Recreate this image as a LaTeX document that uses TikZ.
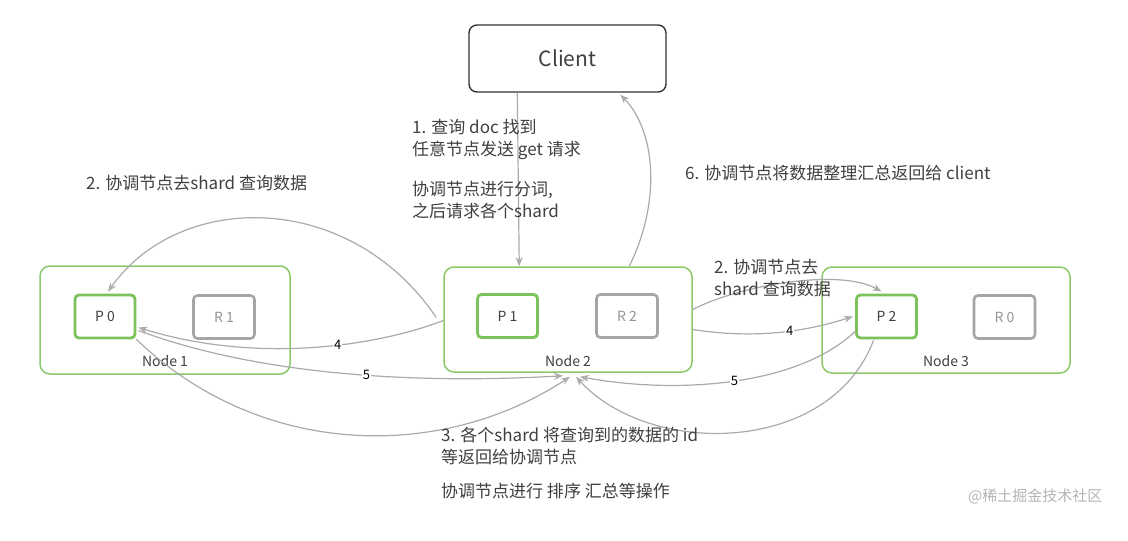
\documentclass[tikz,border=0pt]{standalone}
\usepackage{fontspec}
\setmainfont{Noto Sans CJK SC}
\usetikzlibrary{arrows.meta,calc}
\definecolor{grn}{HTML}{8CC96A}
\definecolor{pgrn}{HTML}{7CC25A}
\definecolor{gry}{HTML}{A5A5A5}
\definecolor{lne}{HTML}{AAAAAA}
\definecolor{txt}{HTML}{404040}
\definecolor{wm}{HTML}{B5B5B5}
\begin{document}
\begin{tikzpicture}[x=1pt,y=-1pt,
  hostbox/.style={draw=grn,line width=1.5pt,rounded corners=10pt,inner sep=0pt},
  pbox/.style={draw=pgrn,line width=2.8pt,rounded corners=4pt,minimum width=60pt,minimum height=43pt,inner sep=0pt,text=txt,font=\fontsize{14}{16}\selectfont},
  rbox/.style={draw=gry,line width=2.6pt,rounded corners=4pt,minimum width=61pt,minimum height=43pt,inner sep=0pt,text=gry!90!black,font=\fontsize{14}{16}\selectfont},
  hostlabel/.style={text=txt,font=\fontsize{14}{16}\selectfont,inner sep=0pt},
  note/.style={text=txt,font=\fontsize{17}{22}\selectfont,align=left,anchor=north west,inner sep=0pt},
  conn/.style={draw=lne,line width=1.2pt,-{Stealth[open,length=9pt,width=7pt]}},
  num/.style={fill=white,inner sep=1pt,text=black,font=\fontsize{13}{15}\selectfont}]
\useasboundingbox (0,0) rectangle (1128,541);
\fill[white] (0,0) rectangle (1128,541);

% Client
\node[draw=black!80,line width=1.4pt,rounded corners=8pt,minimum width=197pt,minimum height=67pt,inner sep=0pt,text=txt,font=\fontsize{21}{24}\selectfont] (cl) at (567.5,58.5) {Client};

% Hosts
\node[hostbox,minimum width=250pt,minimum height=108pt] (n1) at (165,320) {};
\node[hostbox,minimum width=248pt,minimum height=105pt] (n2) at (568,319.5) {};
\node[hostbox,minimum width=248pt,minimum height=106pt] (n3) at (946,320) {};
\node[hostlabel] (n1l) at (165,361) {Node 1};
\node[hostlabel] (n2l) at (568,361) {Node 2};
\node[hostlabel] (n3l) at (946,361) {Node 3};

% Shards
\node[pbox] (p0) at (105,316.5) {P 0};
\node[rbox] (r1) at (224,317) {R 1};
\node[pbox] (p1) at (507.5,316) {P 1};
\node[rbox] (r2) at (627,316) {R 2};
\node[pbox] (p2) at (886.5,316.5) {P 2};
\node[rbox] (r0) at (1004.5,317) {R 0};

% Connection points
\coordinate (clOut) at ($(cl.south west)+(49,0)$);
\coordinate (clIn) at ($(cl.south west)+(152,2)$);
\coordinate (n2In) at ($(n2.north west)+(76,0)$);
\coordinate (n2Up) at ($(n2.north west)+(186,0)$);
\coordinate (n2L1) at ($(n2.west)+(-7,-2)$);
\coordinate (n2L2) at ($(n2.west)+(0,1)$);
\coordinate (n2R1) at ($(n2.east)+(0,-10)$);
\coordinate (n2R2) at ($(n2.east)+(0,10)$);
\coordinate (n2B1) at ($(n2.south)+(-5,3)$);
\coordinate (n2B2) at ($(n2.south)+(2,4)$);
\coordinate (n2B3) at ($(n2.south)+(8,4)$);
\coordinate (n2B4) at ($(n2.south)+(12,4)$);
\coordinate (p0T) at ($(p0.north)+(3,-2)$);
\coordinate (p0R1) at ($(p0.east)+(2,11)$);
\coordinate (p0R2) at ($(p0.east)+(2,14)$);
\coordinate (p0R3) at ($(p0.south east)+(0,0)$);
\coordinate (p2T) at ($(p2.north)+(-5,-2)$);
\coordinate (p2L) at ($(p2.west)+(-2,0)$);
\coordinate (p2L2) at ($(p2.west)+(1,14)$);
\coordinate (p2B) at ($(p2.south)+(-13,1)$);

% Connectors
\draw[conn] (clOut) -- (n2In);
\draw[conn] (n2Up) .. controls (662,200) and (655,130) .. (clIn);
\draw[conn] (n2L1) .. controls (350,190) and (180,190) .. (p0T);
\draw[conn] (n2L2) .. controls (380,345) and (260,365) .. node[num,pos=0.42] (l4a) {4} (p0R1);
\draw[conn] (p0R2) .. controls (250,372) and (400,385) .. node[num,pos=0.58] (l5a) {5} (n2B1);
\draw[conn] (p0R3) .. controls (260,458) and (440,462) .. (n2B2);
\draw[conn] (n2R1) .. controls (740,285) and (840,268) .. (p2T);
\draw[conn] (n2R2) .. controls (760,340) and (810,330) .. node[num,pos=0.55] (l4b) {4} (p2L);
\draw[conn] (p2L2) .. controls (800,385) and (680,395) .. node[num,pos=0.5] (l5b) {5} (n2B4);
\draw[conn] (p2B) .. controls (830,455) and (650,458) .. (n2B3);

% Notes
\node[note] (t1) at (412,119) {1. 查询 doc 找到\\任意节点发送 get 请求};
\node[note] (t1b) at (412,181) {协调节点进行分词,\\之后请求各个shard};
\node[note] (t2a) at (86,175) {2. 协调节点去shard 查询数据};
\node[note] (t6) at (685,165) {6. 协调节点将数据整理汇总返回给 client};
\node[note] (t2b) at (714,259) {2. 协调节点去\\shard 查询数据};
\node[note] (t3) at (441,427) {3. 各个shard 将查询到的数据的 id\\等返回给协调节点};
\node[note] (t3b) at (441,483) {协调节点进行 排序 汇总等操作};
\node[text=wm,font=\fontsize{15}{18}\selectfont,anchor=west,inner sep=0pt] (wm) at (968,496) {@稀土掘金技术社区};
\end{tikzpicture}
\end{document}
